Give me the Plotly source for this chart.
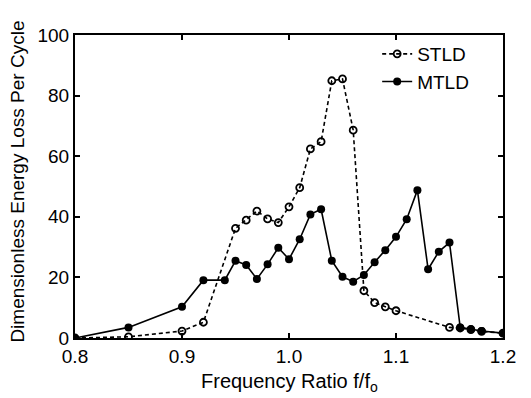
import plotly.graph_objects as go

mtld_f = [0.80, 0.85, 0.90, 0.92, 0.94, 0.95, 0.96, 0.97, 0.98, 0.99, 1.00, 1.01, 1.02, 1.03,
          1.04, 1.05, 1.06, 1.07, 1.08, 1.09, 1.10, 1.11, 1.12, 1.13, 1.14, 1.15, 1.16, 1.17, 1.18, 1.20]
mtld_y = [0.0, 3.5, 10.3, 19.1, 19.1, 25.5, 24.1, 19.5, 24.3, 29.8, 26.0, 32.6, 40.8, 42.5,
          25.5, 20.2, 18.6, 20.8, 25.0, 29.0, 33.4, 39.2, 48.8, 22.7, 28.5, 31.5, 3.5, 2.9, 2.3, 1.6]

stld_f = [0.80, 0.85, 0.90, 0.92, 0.95, 0.96, 0.97, 0.98, 0.99, 1.00, 1.01, 1.02, 1.03, 1.04,
          1.05, 1.06, 1.07, 1.08, 1.09, 1.10, 1.15, 1.16, 1.17, 1.18, 1.20]
stld_y = [0.0, 0.4, 2.3, 5.2, 36.2, 38.9, 41.9, 39.3, 38.1, 43.3, 49.6, 62.4, 64.8, 84.9,
          85.5, 68.6, 15.6, 11.7, 10.3, 9.0, 3.5, 3.3, 2.8, 2.2, 1.6]

x_ticks = [0.8, 0.9, 1.0, 1.1, 1.2]
x_tick_labels = ["0.8", "0.9", "1.0", "1.1", "1.2"]
y_ticks = [0, 20, 40, 60, 80, 100]
x_title = "Frequency Ratio f/f<sub>o</sub>"
y_title = "Dimensionless Energy Loss Per Cycle"

font_family = "Liberation Sans, Arial, sans-serif"
fsize = 19

fig = go.Figure()
fig.add_trace(go.Scatter(
    x=stld_f, y=stld_y, name="STLD", mode="lines+markers",
    line=dict(color="black", width=1.6, dash="4px,3px"),
    marker=dict(symbol="circle-open", size=7, color="black", line=dict(width=1.8)),
))
fig.add_trace(go.Scatter(
    x=mtld_f, y=mtld_y, name="MTLD", mode="lines+markers",
    line=dict(color="black", width=1.6),
    marker=dict(symbol="circle", size=8, color="black"),
))

axis_common = dict(
    showline=True, linecolor="black", linewidth=2.2, mirror="ticks",
    ticks="inside", ticklen=5, tickwidth=2, tickcolor="black",
    showgrid=False, zeroline=False, automargin=False,
    tickfont=dict(family=font_family, size=fsize, color="black"),
)

fig.update_layout(
    width=531, height=398,
    # page body adds an 8px offset; margins compensate so the plot area sits at x 75-503, y 35-338
    margin=dict(l=67, r=36, t=27, b=68),
    paper_bgcolor="white", plot_bgcolor="white",
    font=dict(family=font_family, color="black"),
    xaxis=dict(range=[0.8, 1.2], tickvals=x_ticks, ticktext=x_tick_labels, **axis_common),
    yaxis=dict(range=[0, 100], tickvals=y_ticks, **axis_common),
    legend=dict(x=0.706, y=1.0, xanchor="left", yanchor="top",
                bgcolor="rgba(0,0,0,0)", borderwidth=0,
                font=dict(family=font_family, size=fsize, color="black"),
                tracegroupgap=0, itemwidth=30),
    showlegend=True,
    annotations=[
        dict(text=x_title, xref="paper", yref="paper", x=0.5, y=-0.1485,
             xanchor="center", yanchor="middle", showarrow=False,
             font=dict(family=font_family, size=20, color="black")),
        dict(text=y_title, xref="paper", yref="paper", x=-0.134, y=0.515,
             xanchor="center", yanchor="middle", showarrow=False, textangle=-90,
             font=dict(family=font_family, size=19, color="black")),
    ],
)

fig.write_html("out.html")
